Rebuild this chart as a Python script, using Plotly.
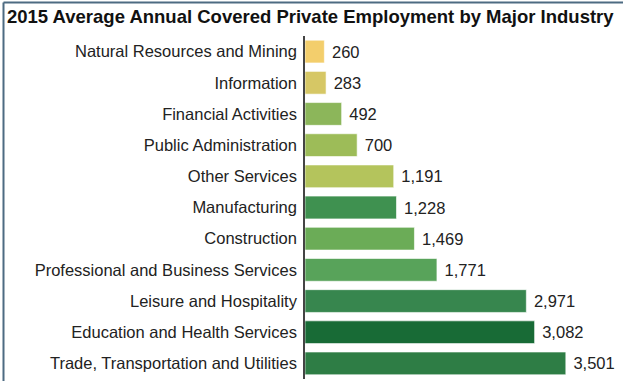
import plotly.graph_objects as go

categories = [
    "Natural Resources and Mining",
    "Information",
    "Financial Activities",
    "Public Administration",
    "Other Services",
    "Manufacturing",
    "Construction",
    "Professional and Business Services",
    "Leisure and Hospitality",
    "Education and Health Services",
    "Trade, Transportation and Utilities",
]
values = [260, 283, 492, 700, 1191, 1228, 1469, 1771, 2971, 3082, 3501]
colors = [
    "#F3CE6C", "#D6C765", "#8CB65A", "#9DBC58", "#B4C45C",
    "#3F9150", "#6BAC57", "#58A35A", "#37864E", "#186B36", "#2E7D45",
]

W, H = 623, 381
ml, mr, mt, mb = 305, 20, 36, 2

fig = go.Figure(go.Bar(
    y=categories,
    x=values,
    orientation="h",
    marker=dict(color=colors, line=dict(color="rgba(255,255,255,0.6)", width=1)),
    texttemplate=" %{x:,}",
    textposition="outside",
    textfont=dict(family="Liberation Sans, Arial", size=16.5, color="#222"),
    cliponaxis=False,
))

pw = W - ml - mr
ph = H - mt - mb
top_y = (H - mb - 2.5) / ph
left_x = (3.5 - ml) / pw
fig.add_shape(type="line", xref="paper", yref="paper",
              x0=left_x, x1=(W - ml) / pw, y0=top_y, y1=top_y,
              line=dict(color="#4D6B82", width=2), layer="above")
fig.add_shape(type="line", xref="paper", yref="paper",
              x0=left_x, x1=left_x, y0=top_y, y1=-mb / ph,
              line=dict(color="#4D6B82", width=2), layer="above")

fig.update_layout(
    width=W, height=H,
    margin=dict(l=ml, r=mr, t=mt, b=mb),
    paper_bgcolor="white", plot_bgcolor="white",
    showlegend=False,
    bargap=0.27,
    title=dict(
        text="<b>2015 Average Annual Covered Private Employment by Major Industry</b>",
        font=dict(family="Liberation Sans, Arial", size=18.5, color="#111"),
        x=7 / W, xanchor="left", xref="container",
        y=1 - 17 / H, yanchor="middle", yref="container",
    ),
    xaxis=dict(range=[0, 4000], visible=False),
    yaxis=dict(
        autorange="reversed",
        tickfont=dict(family="Liberation Sans, Arial", size=16.5, color="#222"),
        showline=True, linecolor="#444", linewidth=1.5,
        showgrid=False, ticks="", ticklabelstandoff=3,
    ),
)

fig.write_html(
    "out.html",
    config={"displayModeBar": False},
    post_script="document.body.style.margin='0';document.body.style.overflow='hidden';",
)
